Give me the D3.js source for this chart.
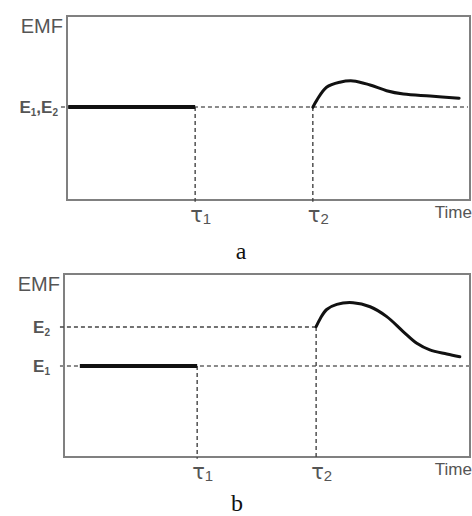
<!DOCTYPE html>
<html>
<head>
<meta charset="utf-8">
<script src="https://cdn.jsdelivr.net/npm/d3@7"></script>
<style>
  body { margin: 0; background: #fff; }
  svg { display: block; }
</style>
</head>
<body>
<div id="chart"></div>
<script>
// Data (arbitrary units: time 0..100, EMF 0..100 per panel)
var tauA = [31.8, 61.0];
var levelA = 50.5;
var curveA = [[61.0, 50.4], [62.0, 54.3], [64.4, 61.3], [67.7, 64.0], [71.0, 64.7], [75.2, 62.5], [79.3, 59.4], [83.5, 57.6], [90.1, 56.5], [97.3, 55.3]];

var tauB = [32.8, 62.1];
var levelsB = [49.7, 71.0]; // E1, E2
var curveB = [[62.1, 71.2], [63.1, 75.6], [64.7, 80.6], [67.2, 83.4], [71.2, 84.3], [75.4, 82.1], [79.5, 76.7], [83.6, 68.4], [86.9, 62.1], [90.1, 58.5], [94.3, 56.3], [97.5, 54.8]];

var width = 472, height = 516;
var svg = d3.select("#chart").append("svg")
    .attr("width", width)
    .attr("height", height);

var frameColor = "#808080", textColor = "#555";
var sans = "'Liberation Sans', Arial, sans-serif";

function panel(box, opts) {
    var x = d3.scaleLinear().domain([0, 100]).range([box.left, box.right]);
    var y = d3.scaleLinear().domain([0, 100]).range([box.bottom, box.top]);
    var g = svg.append("g");

    // frame
    g.append("rect")
        .attr("x", box.left).attr("y", box.top)
        .attr("width", box.right - box.left).attr("height", box.bottom - box.top)
        .style("fill", "none").style("stroke", frameColor).style("stroke-width", 2);

    // light dotted level lines
    opts.dotted.forEach(function(d) {
        g.append("line")
            .attr("x1", x(d.from)).attr("x2", x(d.to))
            .attr("y1", y(d.v)).attr("y2", y(d.v))
            .style("stroke", "#8a8a8a").style("stroke-width", 2).style("stroke-dasharray", "4,3");
    });
    // darker dashed lines
    opts.dashed.forEach(function(d) {
        g.append("line")
            .attr("x1", x(d.x1)).attr("x2", x(d.x2))
            .attr("y1", y(d.y1)).attr("y2", y(d.y2))
            .style("stroke", "#444").style("stroke-width", 1.4).style("stroke-dasharray", "4,3");
    });

    // thick initial segment
    g.append("line")
        .attr("x1", x(opts.thick[0])).attr("x2", x(opts.thick[1]))
        .attr("y1", y(opts.thick[2])).attr("y2", y(opts.thick[2]))
        .style("stroke", "#111").style("stroke-width", 4);

    // relaxation curve
    var line = d3.line()
        .x(function(d) { return x(d[0]); })
        .y(function(d) { return y(d[1]); })
        .curve(d3.curveCatmullRom);
    g.append("path")
        .datum(opts.curve)
        .attr("d", line)
        .style("fill", "none").style("stroke", "#111").style("stroke-width", 3)
        .style("stroke-linecap", "round");

    // EMF label
    g.append("text")
        .attr("x", box.left - 4).attr("y", box.top + 17)
        .attr("text-anchor", "end")
        .style("font-family", sans).style("font-size", "20px")
        .style("fill", textColor)
        .text("EMF");

    // E labels
    opts.eLabels.forEach(function(d) {
        var t = g.append("text")
            .attr("x", box.left - d.dx).attr("y", y(d.v) + 6)
            .attr("text-anchor", "end")
            .style("font-family", sans).style("font-size", "17px").style("font-weight", "bold")
            .style("fill", textColor);
        d.parts.forEach(function(p) {
            t.append("tspan").text(p[0]);
            t.append("tspan").attr("dy", 3).style("font-size", "10px").text(p[1]);
            if (p[2]) t.append("tspan").attr("dy", -3).text(p[2]);
        });
    });

    // tau labels
    opts.tau.forEach(function(tv, i) {
        var t = g.append("text")
            .attr("x", x(tv) - 5).attr("y", box.bottom + 22)
            .style("font-family", "'DejaVu Sans', sans-serif").style("font-size", "21px")
            .style("fill", textColor);
        t.append("tspan").text("τ");
        t.append("tspan").attr("dy", 2).style("font-family", sans).style("font-size", "15px").text(i + 1);
    });

    // Time label
    g.append("text")
        .attr("x", box.right + 2).attr("y", box.bottom + 18)
        .attr("text-anchor", "end")
        .style("font-family", sans).style("font-size", "17px")
        .style("fill", textColor)
        .text("Time");

    // panel letter
    g.append("text")
        .attr("x", opts.letterX).attr("y", opts.letterY)
        .attr("text-anchor", "middle")
        .style("font-family", "'Liberation Serif', 'Times New Roman', serif").style("font-size", "24px")
        .style("fill", "#111")
        .text(opts.letter);
}

panel({ left: 67, right: 470, top: 16, bottom: 200 }, {
    dotted: [{ from: -1.5, to: 99.5, v: levelA }],
    dashed: [
        { x1: tauA[0], x2: tauA[0], y1: levelA, y2: -1 },
        { x1: tauA[1], x2: tauA[1], y1: levelA, y2: -1 }
    ],
    thick: [0.3, tauA[0], levelA],
    curve: curveA,
    eLabels: [{ v: levelA, dx: 9, parts: [["E", "1", ","], ["E", "2"]] }],
    tau: tauA,
    letter: "a", letterX: 241, letterY: 259
});

panel({ left: 64, right: 470, top: 274, bottom: 457 }, {
    dotted: [{ from: -1, to: 100, v: levelsB[0] }],
    dashed: [
        { x1: -1, x2: tauB[1], y1: levelsB[1], y2: levelsB[1] },
        { x1: tauB[0], x2: tauB[0], y1: levelsB[0], y2: -1 },
        { x1: tauB[1], x2: tauB[1], y1: levelsB[1], y2: -1 }
    ],
    thick: [3.9, tauB[0], levelsB[0]],
    curve: curveB,
    eLabels: [
        { v: levelsB[0], dx: 14, parts: [["E", "1"]] },
        { v: levelsB[1], dx: 14, parts: [["E", "2"]] }
    ],
    tau: tauB,
    letter: "b", letterX: 237, letterY: 511
});
</script>
</body>
</html>
